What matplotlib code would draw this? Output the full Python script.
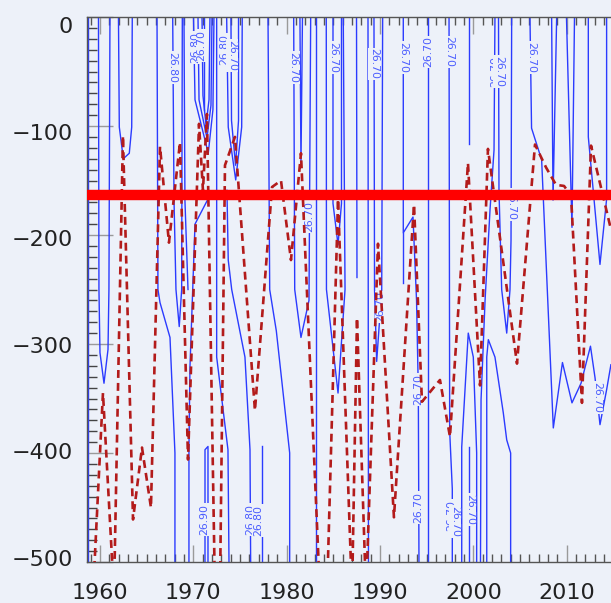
import matplotlib
matplotlib.use('Agg')
import matplotlib.pyplot as plt
import matplotlib.transforms as mtransforms
from matplotlib.ticker import MultipleLocator

BG = '#edf1f9'
BLUE = '#2b3bff'
LABEL_BLUE = '#4a5cff'
DASH_RED = '#b31b1b'

# isopycnal depth time series (red dashed)
mld_year = [1959.25, 1960.32, 1961.50, 1962.46, 1963.54, 1964.50, 1965.46, 1966.43,
            1967.39, 1968.57, 1969.43, 1970.61, 1971.03, 1971.46, 1972.32, 1972.85,
            1973.39, 1974.46, 1976.60, 1978.43, 1979.39, 1980.46, 1981.53, 1983.57,
            1984.32, 1985.50, 1987.00, 1987.53, 1988.50, 1989.78, 1991.49, 1993.64,
            1994.49, 1996.42, 1997.49, 1999.42, 2000.71, 2001.56, 2004.67, 2006.60,
            2007.78, 2008.85, 2009.71, 2010.46, 2011.63, 2012.60, 2014.74]
mld_depth = [-530, -345, -530, -109, -461, -395, -450, -119,
             -207, -115, -406, -98, -159, -89, -530, -530,
             -136, -110, -361, -156, -150, -223, -125, -530,
             -530, -167, -530, -276, -530, -208, -459, -172,
             -353, -333, -385, -134, -338, -121, -318, -117,
             -138, -154, -155, -164, -354, -118, -195]

# reference depth (thick red line)
ref_depth = -163

# density contour pieces (year list, depth list)
contour_lines = [
    ([1958.72, 1958.72], [0, -500]),
    ([1959.84, 1959.89, 1960.0, 1960.43, 1960.86, 1960.96, 1961.07], [0, -250, -308, -336, -305, -250, 0]),
    ([1961.98, 1962.07, 1962.50, 1963.14, 1963.40, 1963.46], [0, -101, -130, -125, -101, 0]),
    ([1966.11, 1966.21, 1966.43, 1967.50, 1968.03, 1968.03], [0, -250, -262, -294, -400, -500]),
    ([1967.79, 1967.93, 1968.14, 1968.49, 1968.75, 1968.82], [0, -168, -250, -284, -250, 0]),
    ([1969.0, 1969.10, 1969.43], [0, -168, -250]),
    ([1971.97, 1971.57, 1970.18, 1969.64, 1969.53, 1969.53], [-161, -167, -190, -321, -396, -500]),
    ([1970.02, 1970.18, 1971.60, 1972.10, 1972.21], [0, -76, -125, -85, 0]),
    ([1970.50, 1970.61, 1971.46, 1971.89, 1972.0], [0, -76, -111, -81, 0]),
    ([1970.93, 1971.03, 1971.36, 1971.68, 1971.78], [0, -72, -99, -76, 0]),
    ([1971.19, 1971.19], [0, -85]),
    ([1972.50, 1972.50, 1973.71, 1973.82], [0, -312, -397, -500]),
    ([1973.57, 1973.74, 1974.54, 1975.18, 1975.24], [0, -101, -149.5, -101, 0]),
    ([1974.03, 1974.09, 1974.52, 1974.84, 1974.84], [0, -95, -136, -95, 0]),
    ([1973.60, 1973.74, 1974.11, 1975.53, 1976.07, 1976.14], [-159, -223, -250, -312, -397, -500]),
    ([1971.25, 1971.25, 1971.57, 1971.57], [-500, -397, -394, -500]),
    ([1977.39, 1977.39], [-394, -500]),
    ([1978.0, 1978.18, 1978.89, 1980.32, 1980.32], [0, -250, -288, -400, -500]),
    ([1980.75, 1980.86, 1981.53, 1982.39, 1982.57], [0, -250, -294, -260, 0]),
    ([1981.42, 1981.53, 1981.69], [0, -136, 0]),
    ([1983.14, 1983.14], [0, -500]),
    ([1984.24, 1984.26, 1985.50, 1986.25, 1986.06], [0, -250, -345, -250, 0]),
    ([1984.96, 1984.96, 1985.50, 1985.87, 1985.87], [0, -171, -209, -171, 0]),
    ([1987.48, 1987.53], [0, -239]),
    ([1988.71, 1988.76], [0, -500]),
    ([1989.35, 1989.41, 1989.64, 1990.18, 1990.28], [0, -250, -316, -250, 0]),
    ([1992.49, 1992.49, 1993.53, 1993.91, 1994.10, 1994.17], [0, -198, -183.5, -260, -342, -500]),
    ([1992.49, 1992.49], [-198, -244]),
    ([1995.17, 1995.17], [0, -500]),
    ([1997.39, 1997.46, 1997.74, 1997.74], [0, -380, -433, -500]),
    ([1998.75, 1998.75, 1999.45, 1999.99, 2000.35, 2000.35], [-500, -394.5, -290, -312, -400, -500]),
    ([1999.53, 1999.53], [-394.5, -500]),
    ([1999.53, 1999.53], [0, -116.5]),
    ([2002.31, 2002.21, 2001.78, 2001.25, 2000.82, 2000.76], [0, -122, -177, -260, -351, -500]),
    ([2001.43, 2001.43, 2001.60, 2002.31, 2003.20, 2003.57, 2003.99, 2003.99],
     [-500, -312, -296, -312, -363, -388, -400, -500]),
    ([2002.69, 2002.74, 2003.03, 2003.57, 2003.92, 2004.03, 2004.10], [0, -159, -250, -290, -250, -205, 0]),
    ([2006.06, 2006.23, 2007.31, 2008.56, 2009.54, 2010.56, 2011.53, 2012.54, 2013.03, 2013.56, 2014.27, 2014.73],
     [0, -102, -131, -377, -317, -354, -336, -302, -331, -374, -342, -319]),
    ([2008.38, 2008.53, 2008.92], [0, -168, 0]),
    ([2009.97, 2010.56, 2010.83], [0, -193, 0]),
    ([2012.31, 2012.31, 2013.56, 2014.27, 2014.27], [0, -110, -227, -167, 0]),
]

# contour labels
label_year = [1967.78, 1970.18, 1970.87, 1973.28, 1974.14, 1980.75, 1984.96, 1989.35,
              1992.49, 1995.17, 1997.39, 2002.31, 2002.74, 2006.17, 1982.44, 2004.03,
              1990.06, 1994.10, 2013.24, 1971.19, 1976.07, 1976.93, 1994.12, 1997.65,
              1998.03, 1999.64]
label_depth = [-46, -28, -26, -30, -35, -46, -37, -43,
               -37, -32, -32, -50, -50, -37, -183, -172,
               -266, -342, -349, -461, -461, -462, -450, -457,
               -463, -452]
label_text = ['26.80', '26.80', '26.70', '26.80', '26.70', '26.70', '26.70', '26.70',
              '26.70', '26.70', '26.70', '26.70', '26.70', '26.70', '26.70', '26.70',
              '26.70', '26.70', '26.70', '26.90', '26.80', '26.80', '26.70', '26.70',
              '26.70', '26.70']
label_rot = [-90, 90, 90, 90, -90, -90, -90, -90,
             -90, 90, -90, 90, -90, -90, 90, -90,
             90, 90, -90, 90, 90, 90, 90, 90,
             -90, -90]


def main():
    fig = plt.figure(figsize=(6.11, 6.03), dpi=100)
    fig.patch.set_facecolor(BG)
    ax = fig.add_axes([87 / 611, 41 / 603, 524 / 611, 545 / 603])
    ax.set_facecolor(BG)

    for yrs, deps in contour_lines:
        ax.plot(yrs, deps, color=BLUE, lw=1.0, zorder=2)

    for yr, dp, txt, rot in zip(label_year, label_depth, label_text, label_rot):
        ax.text(yr, dp, txt, rotation=rot, color=LABEL_BLUE, fontsize=7.8,
                ha='center', va='center', zorder=3, clip_on=True,
                bbox=dict(facecolor=BG, edgecolor='none', pad=0.6))

    ax.plot(mld_year, mld_depth, color=DASH_RED, lw=1.9, dashes=(3.0, 1.9), zorder=4)
    ax.axhline(ref_depth, color='#ff0000', lw=7.5, zorder=5)

    ax.set_xlim(1958.61, 2014.74)
    ax.set_ylim(-500, 0)

    ax.set_xticks(range(1960, 2011, 10))
    ax.xaxis.set_minor_locator(MultipleLocator(1))
    ax.set_yticks(range(-500, 1, 100))
    ax.yaxis.set_minor_locator(MultipleLocator(10))

    ax.tick_params(axis='x', which='major', direction='in', length=12, width=1,
                   color='#9a9a9a', top=True, bottom=True, labelsize=16, pad=15,
                   labelcolor='#222222')
    ax.tick_params(axis='x', which='minor', direction='in', length=6, width=1,
                   color='#555555', top=True, bottom=True)
    ax.tick_params(axis='y', which='major', direction='in', length=19, width=1,
                   color='#9a9a9a', left=True, right=False, labelsize=16, pad=10,
                   labelcolor='#222222')
    ax.tick_params(axis='y', which='minor', direction='in', length=7, width=1,
                   color='#444444', left=True, right=False)

    # y labels in the original are spaced a bit tighter than their ticks
    fig.canvas.draw()
    for lab in ax.get_yticklabels():
        k = -lab.get_position()[1] / 100.0
        shift_px = 8 - 2.4 * k
        shift = mtransforms.ScaledTranslation(0, -shift_px / 100, fig.dpi_scale_trans)
        lab.set_transform(lab.get_transform() + shift)

    for side in ['top', 'bottom', 'left']:
        ax.spines[side].set_color('#555555')
        ax.spines[side].set_linewidth(1)
    ax.spines['right'].set_visible(False)

    fig.savefig('out.png', dpi=100, facecolor=BG)
    plt.close(fig)


if __name__ == '__main__':
    main()
